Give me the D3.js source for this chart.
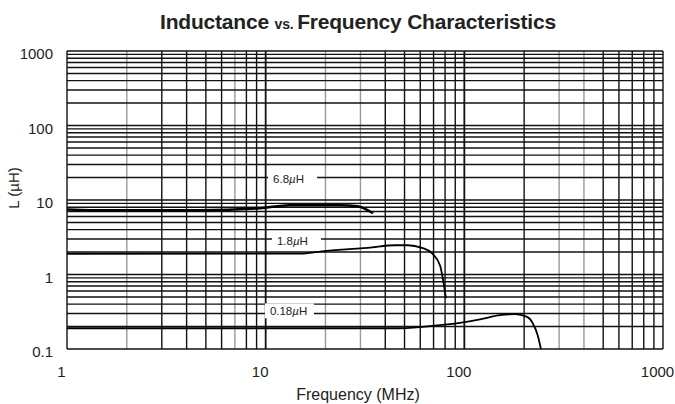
<!DOCTYPE html>
<html>
<head>
<meta charset="utf-8">
<script src="https://cdn.jsdelivr.net/npm/d3@7"></script>
<style>
  body { margin: 0; background: #fff; }
  text { font-family: "Liberation Sans", Arial, sans-serif; fill: #222; }
</style>
</head>
<body>
<svg id="chart" width="675" height="404"></svg>
<script>
// values (frequency in MHz, inductance in uH)
const xTicks = [1, 10, 100, 1000];
const yTicks = [0.1, 1, 10, 100, 1000];

const freq68 = [1, 1.31, 4.67, 9.36, 13.2, 23.7, 29.1, 32, 34.7];
const ind68  = [7.45, 7.3, 7.3, 7.76, 8.51, 8.5, 8.26, 7.5, 6.65];

const freq18 = [1, 14.9, 19.2, 26.3, 32.7, 44.8, 52, 61.2, 68.7, 75.4, 80.8];
const ind18  = [1.9, 1.91, 2.05, 2.19, 2.28, 2.47, 2.47, 2.28, 1.93, 1.33, 0.48];

const freq018 = [1, 47.4, 75.4, 95, 120, 151, 180, 207, 221, 234, 243];
const ind018  = [0.19, 0.19, 0.209, 0.224, 0.249, 0.284, 0.293, 0.27, 0.222, 0.153, 0.1];

const seriesNames = ["6.8", "1.8", "0.18"];
// where each label text starts (frequency, inductance at its middle)
const labelFreq = [10.9, 11.4, 10.5];
const labelInd  = [19.0, 2.8, 0.32];

const margin = { top: 51, right: 12, bottom: 55, left: 67 },
  w = 675 - margin.left - margin.right,
  h = 404 - margin.top - margin.bottom;

const svg = d3.select("#chart");
const g = svg.append("g").attr("transform", `translate(${margin.left},${margin.top})`);

const x = d3.scaleLog().domain([1, 1000]).range([0, w]);
const y = d3.scaleLog().domain([0.1, 1000]).range([h, 0]);

// log paper grid: 1..9 in every decade
const gridX = [], gridY = [];
for (let p = 0; p < 3; p++) for (let k = 1; k < 10; k++) gridX.push(k * Math.pow(10, p));
gridX.push(1000);
for (let p = -1; p < 3; p++) for (let k = 1; k < 10; k++) gridY.push(k * Math.pow(10, p));
gridY.push(1000);

const faint = [2, 7, 20, 30, 300, 400];

g.selectAll(".vgrid")
  .data(gridX)
  .enter()
  .append("line")
  .attr("x1", d => x(d)).attr("x2", d => x(d))
  .attr("y1", 0).attr("y2", h)
  .attr("stroke", d => faint.some(f => Math.abs(f - d) < 1e-6) ? "#9a9a9a" : "#111")
  .attr("stroke-width", d => (d === 10 || d === 100) ? 1.8 : 1.4);

g.selectAll(".hgrid")
  .data(gridY)
  .enter()
  .append("line")
  .attr("x1", 0).attr("x2", w)
  .attr("y1", d => y(d)).attr("y2", d => y(d))
  .attr("stroke", "#111")
  .attr("stroke-width", 1.4);

// labels on white patches
seriesNames.forEach((name, i) => {
  const lx = x(labelFreq[i]), ly = y(labelInd[i]);
  g.append("rect")
    .attr("x", lx - 5).attr("y", ly - 8)
    .attr("width", 49).attr("height", 15)
    .attr("fill", "#fff");
  const t = g.append("text")
    .attr("x", lx).attr("y", ly + 4)
    .style("font-size", "11.5px");
  t.append("tspan").text(name);
  t.append("tspan").style("font-style", "italic").text("\u00b5");
  t.append("tspan").text("H");
});

const line = d3.line()
  .x(d => x(d[0]))
  .y(d => y(d[1]))
  .curve(d3.curveMonotoneX);

const curves = [
  { f: freq68, l: ind68, sw: 2.4 },
  { f: freq18, l: ind18, sw: 1.8 },
  { f: freq018, l: ind018, sw: 1.8 }
];
curves.forEach(c => {
  g.append("path")
    .datum(c.f.map((f, i) => [f, c.l[i]]))
    .attr("fill", "none")
    .attr("stroke", "#000")
    .attr("stroke-width", c.sw)
    .attr("d", line);
});

// axes (labels only)
const xAxis = g.append("g")
  .attr("transform", `translate(0,${h})`)
  .call(d3.axisBottom(x).tickValues(xTicks).tickFormat(d3.format("")).tickSize(0).tickPadding(17));
xAxis.select(".domain").remove();
xAxis.selectAll("text")
  .attr("dx", -6)
  .style("font-size", "15px")
  .style("font-family", "'Liberation Sans', Arial, sans-serif")
  .attr("fill", "#222");

const yAxis = g.append("g")
  .call(d3.axisLeft(y).tickValues(yTicks).tickFormat(d3.format("")).tickSize(0).tickPadding(14));
yAxis.select(".domain").remove();
yAxis.selectAll("text")
  .attr("dy", "0.52em")
  .style("font-size", "15px")
  .style("font-family", "'Liberation Sans', Arial, sans-serif")
  .attr("fill", "#222");

// title
const title = svg.append("text")
  .attr("x", 358).attr("y", 29)
  .attr("text-anchor", "middle")
  .style("font-weight", "bold")
  .style("font-size", "21px")
  .style("letter-spacing", "-0.2px");
title.append("tspan").text("Inductance ");
title.append("tspan").style("font-size", "14px").text("vs. ");
title.append("tspan").text("Frequency Characteristics");

svg.append("text")
  .attr("x", 358).attr("y", 400)
  .attr("text-anchor", "middle")
  .style("font-size", "16px")
  .text("Frequency (MHz)");

svg.append("text")
  .attr("transform", "translate(19,188) rotate(-90)")
  .attr("text-anchor", "middle")
  .style("font-size", "15px")
  .text("L (\u00b5H)");
</script>
</body>
</html>
